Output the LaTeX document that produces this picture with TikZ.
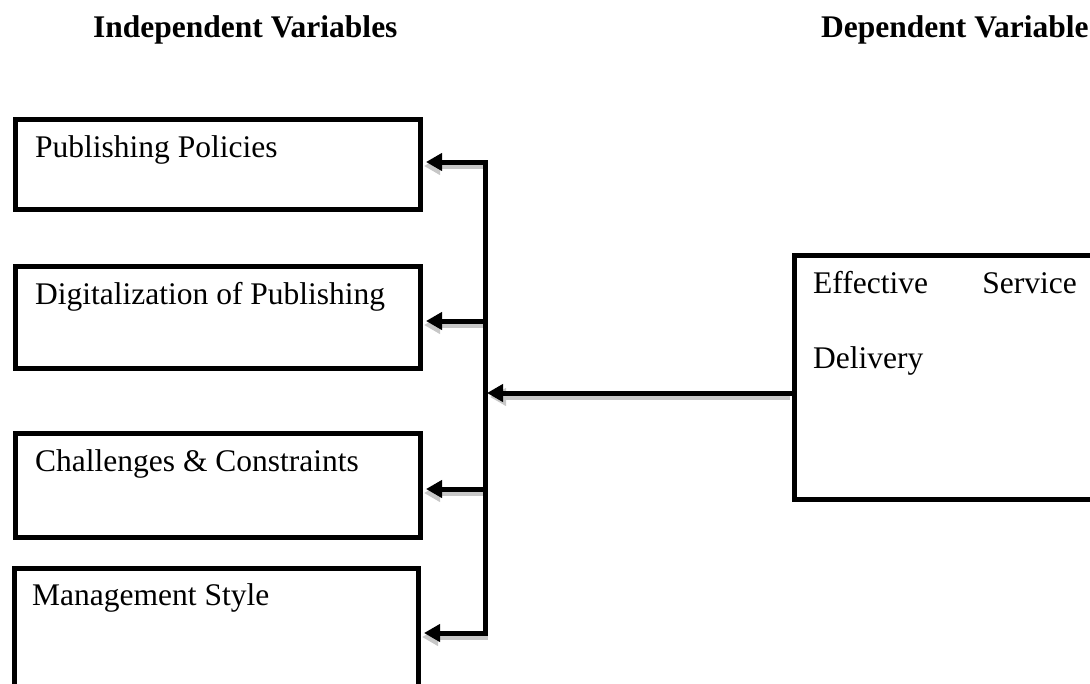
\documentclass[tikz,border=0pt]{standalone}
\usepackage{fontspec}
\setmainfont{Liberation Serif}
\usetikzlibrary{arrows.meta}
\begin{document}
\begin{tikzpicture}[x=1pt,y=-1pt,
  box/.style={draw, line width=5pt, rectangle, inner sep=0pt, anchor=north west},
  lbl/.style={inner sep=0pt, font=\fontsize{31.5pt}{38pt}\selectfont},
  head/.style={anchor=base west, inner sep=0pt, font=\fontsize{31.5pt}{38pt}\selectfont\bfseries},
  conn/.style={line width=5pt},
  arr/.style={conn, -{Triangle[length=16pt,width=17pt]}},
  shadowed/.style={draw=black!22, transform canvas={shift={(3pt,-4pt)}}},
]
\useasboundingbox (0,0) rectangle (1090,683);
\begin{scope}
\clip (0,0) rectangle (1090,683);

% headings
\node[head] (h1) at (93,37) {Independent Variables};
\node[head] (h2) at (821,37) {Dependent Variable};

% junction coordinates
\coordinate (t1) at (485,162);
\coordinate (t2) at (485,321);
\coordinate (t3) at (485,489);
\coordinate (t4) at (485,633);
\coordinate (m)  at (487,393);
\coordinate (e5) at (792,393);

% shadows
\draw[arr, shadowed, shorten >=3pt] (t1) -- (t1 -| 418,0);
\draw[arr, shadowed, shorten >=3pt] (t2) -- (t2 -| 418,0);
\draw[arr, shadowed, shorten >=3pt] (t3) -- (t3 -| 418,0);
\draw[arr, shadowed, shorten >=3pt] (t4) -- (t4 -| 416,0);
\draw[arr, shadowed, shorten <=5pt] (e5) -- (m);

% boxes
\node[box, fill=white, minimum width=405pt, minimum height=90pt]  (b1) at (13,117) {};
\node[box, fill=white, minimum width=405pt, minimum height=102pt] (b2) at (13,264) {};
\node[box, fill=white, minimum width=405pt, minimum height=104pt] (b3) at (13,431) {};
\node[box, fill=white, minimum width=404pt, minimum height=200pt] (b4) at (12,566) {};
\node[box, fill=white, minimum width=400pt, minimum height=244pt] (b5) at (792,253) {};

% labels
\node[lbl, anchor=base west] (l1) at (35,157) {Publishing Policies};
\node[lbl, anchor=base west] (l2) at (35,304) {Digitalization of Publishing};
\node[lbl, anchor=base west] (l3) at (35,471) {Challenges \& Constraints};
\node[lbl, anchor=base west] (l4) at (32,605) {Management Style};
\node[lbl, anchor=base west] (l5a) at (813,293) {Effective};
\node[lbl, anchor=base east] (l5b) at (1077,293) {Service};
\node[lbl, anchor=base west] (l5c) at (813,368) {Delivery};

% connectors
\draw[conn, line cap=rect] (t1) -- (t4);
\draw[arr, shorten >=3pt] (t1) -- (t1 -| b1.east);
\draw[arr, shorten >=3pt] (t2) -- (t2 -| b2.east);
\draw[arr, shorten >=3pt] (t3) -- (t3 -| b3.east);
\draw[arr, shorten >=3pt] (t4) -- (t4 -| b4.east);
\draw[arr] (m -| b5.west) -- (m);
\end{scope}
\end{tikzpicture}
\end{document}
